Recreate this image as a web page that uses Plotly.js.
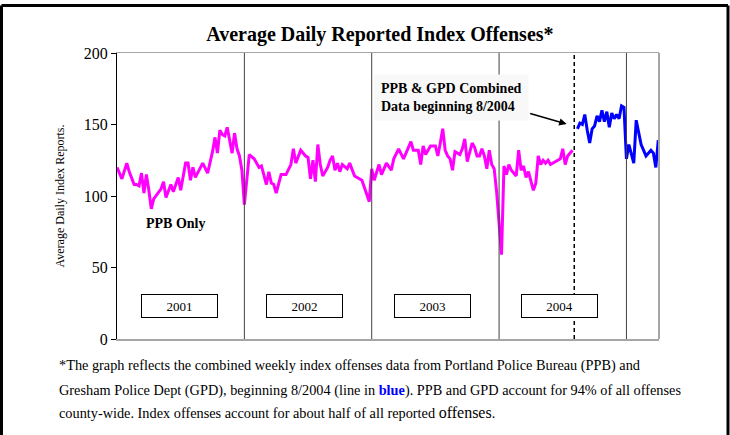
<!DOCTYPE html>
<html>
<head>
<meta charset="utf-8">
<script src="https://cdn.plot.ly/plotly-3.0.1.min.js"></script>
<style>
  html, body { margin: 0; padding: 0; background: #fff; }
  #chart { width: 730px; height: 435px; }
</style>
</head>
<body>
<div id="chart"></div>
<script>
// Week index since first week of 2001
const ppbWeeks = [0,2,4,5,7,8,9,10,11,12,13,14,15,17,18,19,20,22,23,25,26,28,29,30,31,32,35,37,39,40,41,42,43,44,45,47,48,49,50,51,52,
  54,56,58,59,61,62,63,64,65,67,69,70,71,72,73,75,77,78,79,80,81,82,83,84,86,87,88,89,90,91,92,94,95,97,99,100,102,103,
  104,105,107,108,110,112,113,115,117,120,121,123,124,125,126,128,130,131,132,133,134,135,136,137,138,140,141,142,143,145,146,147,148,149,150,151,152,153,154,155,157,
  158,159,160,161,163,164,165,166,167,168,170,171,172,173,174,175,176,177,178,180,181,182,183,184,186];
const ppbValues = [120,112,123,117,108,108,107,116,102,115,104,91,98,103,105,110,99,108,103,113,104,123,123,111,120,113,123,116,131,141,130,146,143,142,148,130,144,133,128,118,94,
  129,126,120,121,108,117,109,108,102,115,115,119,122,133,123,132,128,127,112,125,110,136,122,114,120,125,128,118,123,117,122,119,123,114,112,111,101,96,
  119,111,122,115,123,118,126,133,126,138,132,132,122,135,129,135,135,128,137,147,132,128,126,118,131,129,133,140,124,137,134,128,128,133,128,119,132,122,119,103,59,
  121,115,122,118,114,132,118,121,113,117,104,109,128,122,125,123,125,122,123,125,126,133,122,128,132];

const combWeeks = [188,189,190,191,192,193,194,195,196,197,198,199,200,201,202,203,204,205,206,207,208,209,211,212,214,216,218,219,220,221];
const combValues = [147,151,150,157,146,137,147,149,156,152,160,152,159,148,158,154,157,154,163,162,126,136,123,153,136,128,132,130,120,139];

const yearLabels = ['2001','2002','2003','2004'];
const yearLabelWeeks = [25.4, 76.5, 129, 180.7];
const yearBounds = [52, 104, 156, 208];
const combinedStartWeek = 186.7;
const yTicks = [0, 50, 100, 150, 200];

const SERIF = '"Liberation Serif", "Times New Roman", serif';

const traces = [
  { x: ppbWeeks, y: ppbValues, type: 'scatter', mode: 'lines',
    line: { color: '#ff00ff', width: 3 }, hoverinfo: 'skip' },
  { x: combWeeks, y: combValues, type: 'scatter', mode: 'lines',
    line: { color: '#0000ff', width: 3 }, hoverinfo: 'skip' }
];

const shapes = [];
yearBounds.forEach(b => shapes.push({
  type: 'line', xref: 'x', yref: 'y', x0: b, x1: b, y0: 0, y1: 200,
  line: { color: '#404040', width: 1 }
}));
shapes.push({ type: 'line', xref: 'x', yref: 'y', x0: combinedStartWeek, x1: combinedStartWeek, y0: 0, y1: 200,
  line: { color: '#000', width: 1.5, dash: '4px,3px' } });
shapes.push({ type: 'line', xref: 'paper', yref: 'paper', x0: 1, x1: 1, y0: 0, y1: 1,
  line: { color: '#a6a6a6', width: 2 } });
// outer frame
const fl = -0.2131, fr = 1.1273, ft = 1.166, fb = -0.6;
shapes.push({ type: 'line', xref: 'paper', yref: 'paper', x0: fl, x1: fl, y0: fb, y1: ft, line: { color: '#000', width: 3 } });
shapes.push({ type: 'line', xref: 'paper', yref: 'paper', x0: fr, x1: fr, y0: fb, y1: ft, line: { color: '#000', width: 3 } });
shapes.push({ type: 'line', xref: 'paper', yref: 'paper', x0: fl, x1: fr, y0: ft, y1: ft, line: { color: '#000', width: 3 } });

const annotations = [];
yearLabels.forEach((t, i) => annotations.push({
  x: yearLabelWeeks[i], y: 22.9, xref: 'x', yref: 'y', text: t, showarrow: false,
  font: { family: SERIF, size: 13, color: '#000' },
  bgcolor: '#fff', bordercolor: '#000', borderwidth: 1, borderpad: 1,
  width: 73, height: 20, xanchor: 'center', yanchor: 'middle'
}));
annotations.push({
  x: 24.1, y: 81, xref: 'x', yref: 'y', text: '<b>PPB Only</b>', showarrow: false,
  font: { family: SERIF, size: 14, color: '#000' }, xanchor: 'center', yanchor: 'middle'
});
annotations.push({
  x: 136.7, y: 168.9, xref: 'x', yref: 'y',
  text: '<b>PPB &amp; GPD Combined</b><br><b>Data beginning 8/2004</b>', showarrow: false,
  align: 'left', font: { family: SERIF, size: 14, color: '#000' },
  bgcolor: '#f8f8f8', borderpad: 6, xanchor: 'center', yanchor: 'middle'
});
annotations.push({
  x: 183.6, y: 150.3, xref: 'x', yref: 'y', text: '', showarrow: true,
  ax: -38, ay: -11, arrowhead: 2, arrowsize: 1, arrowwidth: 1.5, arrowcolor: '#000', standoff: 0
});
const footLines = [
  '*The graph reflects the combined weekly index offenses data from Portland Police Bureau (PPB) and',
  'Gresham Police Dept (GPD), beginning 8/2004 (line in <span style="color:#0000ff"><b>blue</b></span>). PPB and GPD account for 94% of all offenses',
  'county-wide. Index offenses account for about half of all reported <span style="font-size:16px">offenses</span>.'
];
const footY = [-0.0944, -0.1818, -0.2587];
footLines.forEach((t, i) => annotations.push({
  x: -0.1107, y: footY[i], xref: 'paper', yref: 'paper', text: t, showarrow: false,
  xanchor: 'left', yanchor: 'middle', align: 'left',
  font: { family: SERIF, size: 14.3, color: '#000' }
}));

const layout = {
  width: 730, height: 435,
  margin: { l: 117, r: 71, t: 53, b: 96 },
  paper_bgcolor: '#fff', plot_bgcolor: '#fff',
  showlegend: false,
  title: {
    text: '<b>Average Daily Reported Index Offenses*</b>',
    font: { family: SERIF, size: 20, color: '#000' },
    xref: 'paper', x: 0.485, xanchor: 'center',
    yref: 'container', y: 0.922, yanchor: 'middle'
  },
  xaxis: {
    range: [0, 221.3], showgrid: false, zeroline: false, showticklabels: false, ticks: '',
    showline: true, mirror: true, linecolor: '#a6a6a6', linewidth: 1.5, fixedrange: true
  },
  yaxis: {
    range: [0, 200], tickvals: yTicks, ticktext: yTicks.map(String),
    ticks: 'outside', ticklen: 5, tickcolor: '#000', tickwidth: 1,
    showline: true, linecolor: '#000', linewidth: 1, showgrid: false, zeroline: false,
    tickfont: { family: SERIF, size: 16, color: '#000' },
    title: { text: 'Average Daily Index Reports.', font: { family: SERIF, size: 12, color: '#000' }, standoff: 16 },
    fixedrange: true
  },
  shapes: shapes,
  annotations: annotations
};

Plotly.newPlot('chart', traces, layout, { displayModeBar: false, staticPlot: true });
</script>
</body>
</html>
